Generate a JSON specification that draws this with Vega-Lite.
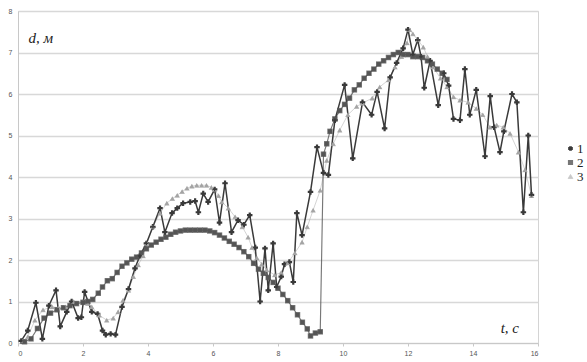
{
  "$schema": "https://vega.github.io/schema/vega-lite/v6.json",
  "autosize": "none",
  "width": 520,
  "height": 332,
  "padding": {"left": 18, "top": 11, "right": 49, "bottom": 19},
  "background": "white",
  "config": {
    "view": {"stroke": "#d4d4d4", "strokeWidth": 1},
    "font": "Liberation Sans"
  },
  "datasets": {
    "pts": [
      {"s":"3","t":0.15,"d":0.05},{"s":"3","t":0.3,"d":0.15},{"s":"3","t":0.52,"d":0.55},{"s":"3","t":0.77,"d":0.8},{"s":"3","t":1.05,"d":0.87},{"s":"3","t":1.25,"d":0.85},{"s":"3","t":1.45,"d":0.87},{"s":"3","t":1.7,"d":1.0},{"s":"3","t":2.0,"d":1.0},{"s":"3","t":2.15,"d":0.95},{"s":"3","t":2.27,"d":0.87},{"s":"3","t":2.5,"d":0.67},{"s":"3","t":2.73,"d":0.55},{"s":"3","t":2.93,"d":0.6},{"s":"3","t":3.08,"d":0.75},{"s":"3","t":3.23,"d":1.03},{"s":"3","t":3.4,"d":1.27},{"s":"3","t":3.55,"d":1.6},{"s":"3","t":3.7,"d":1.88},{"s":"3","t":3.85,"d":2.1},{"s":"3","t":3.97,"d":2.4},{"s":"3","t":4.15,"d":2.8},{"s":"3","t":4.37,"d":3.13},{"s":"3","t":4.58,"d":3.37},{"s":"3","t":4.75,"d":3.48},{"s":"3","t":4.9,"d":3.56},{"s":"3","t":5.05,"d":3.65},{"s":"3","t":5.2,"d":3.73},{"s":"3","t":5.35,"d":3.78},{"s":"3","t":5.5,"d":3.8},{"s":"3","t":5.65,"d":3.8},{"s":"3","t":5.8,"d":3.8},{"s":"3","t":5.95,"d":3.75},{"s":"3","t":6.05,"d":3.7},{"s":"3","t":6.17,"d":3.55},{"s":"3","t":6.27,"d":3.4},{"s":"3","t":6.47,"d":3.25},{"s":"3","t":6.68,"d":3.04},{"s":"3","t":6.9,"d":2.8},{"s":"3","t":7.08,"d":2.55},{"s":"3","t":7.2,"d":2.3},{"s":"3","t":7.35,"d":2.05},{"s":"3","t":7.5,"d":1.9},{"s":"3","t":7.65,"d":1.76},{"s":"3","t":7.9,"d":1.64},{"s":"3","t":8.1,"d":1.7},{"s":"3","t":8.3,"d":1.93},{"s":"3","t":8.52,"d":2.17},{"s":"3","t":8.74,"d":2.43},{"s":"3","t":8.9,"d":2.8},{"s":"3","t":9.08,"d":3.2},{"s":"3","t":9.3,"d":3.68},{"s":"3","t":9.5,"d":4.4},{"s":"3","t":9.7,"d":4.8},{"s":"3","t":9.9,"d":5.13},{"s":"3","t":10.15,"d":5.5},{"s":"3","t":10.42,"d":5.7},{"s":"3","t":10.6,"d":5.78},{"s":"3","t":10.9,"d":5.9},{"s":"3","t":11.13,"d":6.17},{"s":"3","t":11.4,"d":6.34},{"s":"3","t":11.6,"d":6.65},{"s":"3","t":11.8,"d":6.9},{"s":"3","t":11.97,"d":7.23},{"s":"3","t":12.05,"d":7.55},{"s":"3","t":12.15,"d":7.45},{"s":"3","t":12.3,"d":7.3},{"s":"3","t":12.47,"d":7.13},{"s":"3","t":12.6,"d":6.9},{"s":"3","t":12.77,"d":6.65},{"s":"3","t":13.0,"d":6.38},{"s":"3","t":13.2,"d":6.17},{"s":"3","t":13.4,"d":5.93},{"s":"3","t":13.6,"d":5.85},{"s":"3","t":13.85,"d":5.8},{"s":"3","t":14.1,"d":5.65},{"s":"3","t":14.3,"d":5.5},{"s":"3","t":14.52,"d":5.2},{"s":"3","t":14.73,"d":5.25},{"s":"3","t":14.93,"d":5.2},{"s":"3","t":15.14,"d":5.05},{"s":"3","t":15.4,"d":4.6},{"s":"3","t":15.6,"d":4.17},{"s":"3","t":15.8,"d":3.55},
      {"s":"2","t":0.2,"d":0.03},{"s":"2","t":0.4,"d":0.1},{"s":"2","t":0.6,"d":0.35},{"s":"2","t":0.8,"d":0.6},{"s":"2","t":1.0,"d":0.72},{"s":"2","t":1.2,"d":0.8},{"s":"2","t":1.4,"d":0.85},{"s":"2","t":1.6,"d":0.9},{"s":"2","t":1.8,"d":0.95},{"s":"2","t":2.0,"d":0.98},{"s":"2","t":2.15,"d":1.0},{"s":"2","t":2.3,"d":1.05},{"s":"2","t":2.47,"d":1.2},{"s":"2","t":2.6,"d":1.35},{"s":"2","t":2.75,"d":1.5},{"s":"2","t":2.9,"d":1.55},{"s":"2","t":3.05,"d":1.7},{"s":"2","t":3.2,"d":1.85},{"s":"2","t":3.35,"d":1.93},{"s":"2","t":3.5,"d":2.02},{"s":"2","t":3.65,"d":2.07},{"s":"2","t":3.8,"d":2.17},{"s":"2","t":3.95,"d":2.27},{"s":"2","t":4.1,"d":2.36},{"s":"2","t":4.25,"d":2.43},{"s":"2","t":4.4,"d":2.5},{"s":"2","t":4.55,"d":2.55},{"s":"2","t":4.7,"d":2.62},{"s":"2","t":4.85,"d":2.67},{"s":"2","t":5.0,"d":2.7},{"s":"2","t":5.15,"d":2.72},{"s":"2","t":5.3,"d":2.72},{"s":"2","t":5.45,"d":2.72},{"s":"2","t":5.6,"d":2.72},{"s":"2","t":5.75,"d":2.72},{"s":"2","t":5.9,"d":2.7},{"s":"2","t":6.05,"d":2.66},{"s":"2","t":6.2,"d":2.6},{"s":"2","t":6.35,"d":2.53},{"s":"2","t":6.5,"d":2.45},{"s":"2","t":6.65,"d":2.38},{"s":"2","t":6.8,"d":2.3},{"s":"2","t":6.95,"d":2.2},{"s":"2","t":7.1,"d":2.08},{"s":"2","t":7.25,"d":1.92},{"s":"2","t":7.4,"d":1.78},{"s":"2","t":7.55,"d":1.68},{"s":"2","t":7.7,"d":1.58},{"s":"2","t":7.85,"d":1.46},{"s":"2","t":8.0,"d":1.32},{"s":"2","t":8.15,"d":1.17},{"s":"2","t":8.3,"d":1.02},{"s":"2","t":8.45,"d":0.85},{"s":"2","t":8.6,"d":0.68},{"s":"2","t":8.75,"d":0.5},{"s":"2","t":8.9,"d":0.34},{"s":"2","t":9.0,"d":0.17},{"s":"2","t":9.15,"d":0.24},{"s":"2","t":9.3,"d":0.27},{"s":"2","t":9.4,"d":4.55},{"s":"2","t":9.5,"d":4.8},{"s":"2","t":9.6,"d":5.1},{"s":"2","t":9.75,"d":5.4},{"s":"2","t":9.9,"d":5.6},{"s":"2","t":10.05,"d":5.75},{"s":"2","t":10.2,"d":5.9},{"s":"2","t":10.35,"d":6.1},{"s":"2","t":10.5,"d":6.22},{"s":"2","t":10.65,"d":6.38},{"s":"2","t":10.8,"d":6.5},{"s":"2","t":10.95,"d":6.6},{"s":"2","t":11.1,"d":6.72},{"s":"2","t":11.25,"d":6.8},{"s":"2","t":11.4,"d":6.88},{"s":"2","t":11.55,"d":6.95},{"s":"2","t":11.7,"d":7.0},{"s":"2","t":11.85,"d":6.95},{"s":"2","t":12.0,"d":6.95},{"s":"2","t":12.15,"d":6.9},{"s":"2","t":12.3,"d":6.9},{"s":"2","t":12.45,"d":6.88},{"s":"2","t":12.6,"d":6.8},{"s":"2","t":12.75,"d":6.72},{"s":"2","t":12.9,"d":6.6},{"s":"2","t":13.05,"d":6.5},{"s":"2","t":13.2,"d":6.35},
      {"s":"1","t":0.1,"d":0.05},{"s":"1","t":0.3,"d":0.3},{"s":"1","t":0.55,"d":0.97},{"s":"1","t":0.75,"d":0.1},{"s":"1","t":0.95,"d":0.9},{"s":"1","t":1.17,"d":1.27},{"s":"1","t":1.3,"d":0.4},{"s":"1","t":1.5,"d":0.75},{"s":"1","t":1.65,"d":1.0},{"s":"1","t":1.85,"d":0.6},{"s":"1","t":1.95,"d":0.62},{"s":"1","t":2.05,"d":1.23},{"s":"1","t":2.27,"d":0.75},{"s":"1","t":2.45,"d":0.7},{"s":"1","t":2.6,"d":0.3},{"s":"1","t":2.7,"d":0.2},{"s":"1","t":2.85,"d":0.22},{"s":"1","t":3.0,"d":0.2},{"s":"1","t":3.2,"d":0.87},{"s":"1","t":3.4,"d":1.3},{"s":"1","t":3.6,"d":1.8},{"s":"1","t":3.75,"d":2.1},{"s":"1","t":3.95,"d":2.4},{"s":"1","t":4.15,"d":2.8},{"s":"1","t":4.37,"d":3.25},{"s":"1","t":4.52,"d":2.67},{"s":"1","t":4.74,"d":3.13},{"s":"1","t":4.9,"d":3.25},{"s":"1","t":5.08,"d":3.37},{"s":"1","t":5.3,"d":3.4},{"s":"1","t":5.45,"d":3.42},{"s":"1","t":5.55,"d":3.15},{"s":"1","t":5.7,"d":3.6},{"s":"1","t":5.85,"d":3.4},{"s":"1","t":6.05,"d":3.7},{"s":"1","t":6.2,"d":2.9},{"s":"1","t":6.37,"d":3.85},{"s":"1","t":6.57,"d":2.67},{"s":"1","t":6.77,"d":2.96},{"s":"1","t":6.95,"d":2.85},{"s":"1","t":7.13,"d":3.08},{"s":"1","t":7.3,"d":2.3},{"s":"1","t":7.45,"d":1.0},{"s":"1","t":7.6,"d":2.28},{"s":"1","t":7.7,"d":1.27},{"s":"1","t":7.85,"d":2.4},{"s":"1","t":7.96,"d":1.35},{"s":"1","t":8.1,"d":1.6},{"s":"1","t":8.2,"d":1.9},{"s":"1","t":8.35,"d":1.95},{"s":"1","t":8.47,"d":1.47},{"s":"1","t":8.58,"d":3.13},{"s":"1","t":8.74,"d":2.6},{"s":"1","t":9.0,"d":3.64},{"s":"1","t":9.2,"d":4.72},{"s":"1","t":9.4,"d":4.1},{"s":"1","t":9.55,"d":4.05},{"s":"1","t":9.75,"d":5.37},{"s":"1","t":10.05,"d":6.22},{"s":"1","t":10.3,"d":4.45},{"s":"1","t":10.6,"d":5.8},{"s":"1","t":10.88,"d":5.5},{"s":"1","t":11.05,"d":6.05},{"s":"1","t":11.28,"d":5.17},{"s":"1","t":11.45,"d":6.4},{"s":"1","t":11.65,"d":6.75},{"s":"1","t":11.85,"d":7.1},{"s":"1","t":12.0,"d":7.55},{"s":"1","t":12.15,"d":6.95},{"s":"1","t":12.3,"d":7.3},{"s":"1","t":12.4,"d":6.9},{"s":"1","t":12.5,"d":6.15},{"s":"1","t":12.68,"d":6.8},{"s":"1","t":12.93,"d":5.73},{"s":"1","t":13.1,"d":6.5},{"s":"1","t":13.25,"d":6.2},{"s":"1","t":13.4,"d":5.4},{"s":"1","t":13.6,"d":5.37},{"s":"1","t":13.75,"d":6.6},{"s":"1","t":13.9,"d":5.5},{"s":"1","t":14.1,"d":6.1},{"s":"1","t":14.37,"d":4.5},{"s":"1","t":14.53,"d":5.95},{"s":"1","t":14.65,"d":5.2},{"s":"1","t":14.83,"d":4.6},{"s":"1","t":14.95,"d":5.1},{"s":"1","t":15.2,"d":6.0},{"s":"1","t":15.35,"d":5.8},{"s":"1","t":15.55,"d":3.15},{"s":"1","t":15.7,"d":5.0},{"s":"1","t":15.8,"d":3.57}
    ],
    "labels": [
      {"t":0.32,"d":7.35,"txt":"d, м"},
      {"t":14.85,"d":0.36,"txt":"t, с"}
    ]
  },
  "encoding": {
    "x": {"field":"t","type":"quantitative","scale":{"domain":[0,16],"nice":false,"zero":false},
      "axis":{"title":null,"values":[0,2,4,6,8,10,12,14,16],"grid":false,"domain":true,"domainColor":"#c8c8c8","ticks":true,"tickSize":3,"tickColor":"#c8c8c8","labelFontSize":7,"labelColor":"#555555","labelPadding":3}},
    "y": {"field":"d","type":"quantitative","scale":{"domain":[0,8],"nice":false},
      "axis":{"title":null,"values":[0,1,2,3,4,5,6,7,8],"grid":true,"gridColor":"#d8d8d8","gridWidth":1.5,"domain":true,"domainColor":"#c8c8c8","ticks":false,"labelFontSize":7,"labelColor":"#555555","labelPadding":6}}
  },
  "layer": [
    {"data":{"name":"pts"},
     "mark":{"type":"line"},
     "encoding":{
       "color":{"field":"s","type":"nominal","scale":{"domain":["1","2","3"],"range":["#3a3a3a","#555555","#a4a4a4"]},
         "legend":{"title":null,"orient":"none","legendX":546,"legendY":131,"padding":0,"labelFont":"Liberation Serif","labelFontSize":13,"labelColor":"#222222","symbolSize":30,"rowPadding":0,"labelOffset":0,"symbolStrokeWidth":1.2}},
       "shape":{"field":"s","type":"nominal","scale":{"domain":["1","2","3"],"range":["cross","square","triangle-up"]}},
       "strokeWidth":{"field":"s","type":"nominal","scale":{"domain":["1","2","3"],"range":[1.5,0.8,2.5]},"legend":null},
       "opacity":{"field":"s","type":"nominal","scale":{"domain":["1","2","3"],"range":[1,0.6,1]},"legend":null},
       "order":{"field":"t","type":"quantitative"}
     }},
    {"data":{"name":"pts"},
     "mark":{"type":"point","filled":true},
     "encoding":{
       "color":{"field":"s","type":"nominal","scale":{"domain":["1","2","3"],"range":["#3a3a3a","#555555","#a4a4a4"]}},
       "shape":{"field":"s","type":"nominal","scale":{"domain":["1","2","3"],"range":["cross","square","triangle-up"]}},
       "size":{"field":"s","type":"nominal","scale":{"domain":["1","2","3"],"range":[10,22,22]},"legend":null},
       "opacity":{"value":1}
     }},
    {"data":{"name":"labels"},
     "mark":{"type":"text","font":"Liberation Serif","fontStyle":"italic","fontSize":15,"align":"left","baseline":"middle","color":"#222222"},
     "encoding":{"text":{"field":"txt"}}}
  ]
}
